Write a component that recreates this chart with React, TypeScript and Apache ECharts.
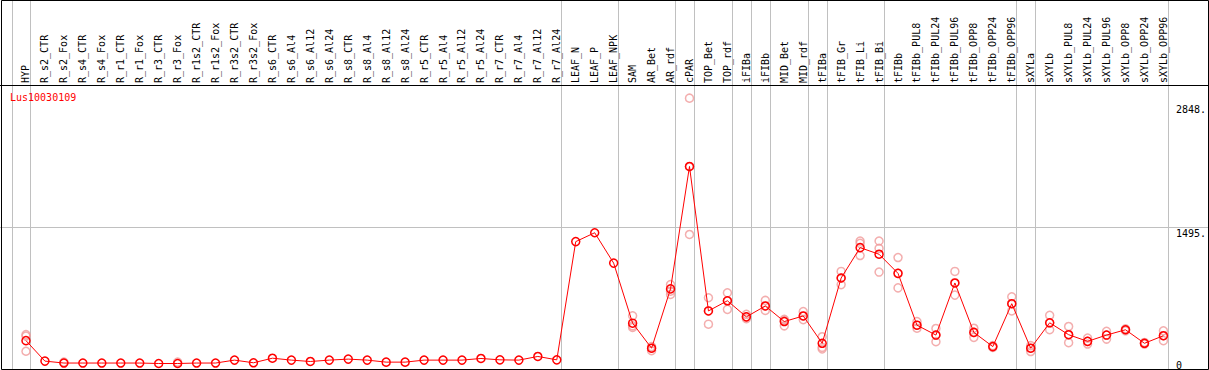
import React, { useEffect, useRef } from 'react';
import * as echarts from 'echarts';

const chartTitle = 'Lus10030109';

const categories = [
  'HYP',
  'R_s2_CTR', 'R_s2_Fox', 'R_s4_CTR', 'R_s4_Fox', 'R_r1_CTR', 'R_r1_Fox', 'R_r3_CTR', 'R_r3_Fox',
  'R_r1s2_CTR', 'R_r1s2_Fox', 'R_r3s2_CTR', 'R_r3s2_Fox',
  'R_s6_CTR', 'R_s6_Al4', 'R_s6_Al12', 'R_s6_Al24', 'R_s8_CTR', 'R_s8_Al4', 'R_s8_Al12', 'R_s8_Al24',
  'R_r5_CTR', 'R_r5_Al4', 'R_r5_Al12', 'R_r5_Al24', 'R_r7_CTR', 'R_r7_Al4', 'R_r7_Al12', 'R_r7_Al24',
  'LEAF_N', 'LEAF_P', 'LEAF_NPK',
  'SAM', 'AR_Bet', 'AR_rdf',
  'cPAR',
  'TOP_Bet', 'TOP_rdf',
  'iFIBa',
  'iFIBb',
  'MID_Bet', 'MID_rdf',
  'tFIBa',
  'tFIB_Gr', 'tFIB_Li', 'tFIB_Bi',
  'tFIBb', 'tFIBb_PUL8', 'tFIBb_PUL24', 'tFIBb_PUL96', 'tFIBb_OPP8', 'tFIBb_OPP24', 'tFIBb_OPP96',
  'sXYLa',
  'sXYLb', 'sXYLb_PUL8', 'sXYLb_PUL24', 'sXYLb_PUL96', 'sXYLb_OPP8', 'sXYLb_OPP24', 'sXYLb_OPP96',
];

const means = [
  250,
  26, 5, 5, 5, 5, 5, 0, 0,
  5, 5, 37, 8,
  58, 37, 22, 37, 48, 37, 15, 15,
  37, 37, 37, 55, 40, 37, 77, 40,
  1333, 1430, 1098,
  441, 167, 816,
  2155,
  575, 686,
  510,
  629,
  459, 520,
  221,
  935, 1267, 1195,
  986, 419, 311, 881, 340, 185, 654,
  167,
  445, 315, 242, 311, 369, 221, 304,
];

const replicates: number[][] = [
  [300, 316, 134],
  [], [15], [], [], [], [], [], [15],
  [], [], [], [],
  [], [], [], [], [], [], [], [],
  [], [], [], [], [], [], [], [],
  [], [], [],
  [521, 412, 394], [185, 167, 140], [863, 791, 755],
  [2902, 2152, 1411],
  [719, 575, 430], [773, 686, 592],
  [538, 510, 490],
  [690, 629, 581],
  [484, 470, 412], [567, 520, 480],
  [293, 177, 159],
  [1007, 935, 863], [1339, 1314, 1181], [1339, 1260, 1000],
  [1159, 986, 827], [459, 419, 386], [383, 311, 239], [1007, 881, 748], [386, 340, 286], [195, 185, 175], [730, 654, 575],
  [195, 167, 131],
  [527, 445, 369], [405, 315, 228], [278, 242, 213], [351, 311, 267], [380, 369, 358], [230, 221, 212], [358, 304, 250],
];

// index of the last category of each group (-1 = before the first)
const groupEnds = [-1, 0, 28, 31, 34, 35, 37, 38, 39, 41, 42, 45, 52, 53, 60];

const yTickValues = [0, 1495, 2848];
const yTickLabels = ['0', '1495.', '2848.'];
const yMin = -28;
const yMax = 3035;

const FONT = '"DejaVu Sans Mono", "Liberation Mono", monospace';

export default function App() {
  const ref = useRef<HTMLDivElement>(null);

  useEffect(() => {
    if (!ref.current) return;
    const chart = echarts.init(ref.current, null, { renderer: 'svg' });

    const repData: number[][] = [];
    replicates.forEach((vals, i) => vals.forEach((v) => repData.push([i, v])));

    const guideLines: any[] = groupEnds.map((b) => [
      { xAxis: b + 0.25, y: 0 },
      { xAxis: b + 0.25, y: 369 },
    ]);
    guideLines.push([
      { yAxis: yTickValues[1], x: 0 },
      { yAxis: yTickValues[1], x: 1209 },
    ]);

    const option: any = {
      animation: false,
      title: {
        text: chartTitle,
        left: 10,
        top: 92,
        padding: 0,
        textStyle: { color: '#ff0000', fontSize: 10, fontWeight: 'normal', fontFamily: FONT },
      },
      grid: { left: 16.5, top: 86, width: 1159, height: 283, containLabel: false },
      xAxis: [
        {
          type: 'category',
          data: categories,
          position: 'top',
          boundaryGap: true,
          axisLine: { show: false },
          axisTick: { show: false },
          splitLine: { show: false },
          axisLabel: {
            rotate: 90,
            interval: 0,
            margin: 3,
            fontSize: 10,
            fontFamily: FONT,
            color: '#000',
          },
        },
        { type: 'value', min: -0.5, max: 60.5, show: false },
      ],
      yAxis: {
        type: 'value',
        min: yMin,
        max: yMax,
        position: 'right',
        axisLine: { show: false },
        axisTick: { show: false },
        splitLine: { show: false },
        axisLabel: {
          customValues: yTickValues,
          margin: 3,
          verticalAlign: 'middle',
          align: 'left',
          formatter: (v: number) => {
            const k = yTickValues.indexOf(v);
            const s = k >= 0 ? yTickLabels[k] : String(v);
            return v === 0 ? `{z|${s}}` : `{a|${s}}`;
          },
          rich: {
            a: { fontSize: 10, fontFamily: FONT, color: '#000', lineHeight: 10, padding: [13, 0, 0, 0] },
            z: { fontSize: 10, fontFamily: FONT, color: '#000', lineHeight: 10, padding: [3, 0, 0, 0] },
          },
        },
      },
      graphic: [
        {
          type: 'rect',
          silent: true,
          z: 100,
          shape: { x: 1.5, y: 0.5, width: 1207, height: 369 },
          style: { fill: 'none', stroke: '#000', lineWidth: 1 },
        },
        {
          type: 'line',
          silent: true,
          z: 100,
          shape: { x1: 0, y1: 85.5, x2: 1209, y2: 85.5 },
          style: { stroke: '#000', lineWidth: 1 },
        },
      ],
      series: [
        {
          type: 'line',
          xAxisIndex: 1,
          yAxisIndex: 0,
          data: [],
          z: 0,
          markLine: {
            silent: true,
            z: 0,
            symbol: ['none', 'none'],
            label: { show: false },
            lineStyle: { color: '#c0c0c0', width: 1, type: 'solid' },
            emphasis: { disabled: true },
            data: guideLines,
          },
        },
        {
          type: 'scatter',
          xAxisIndex: 0,
          yAxisIndex: 0,
          data: repData,
          symbol: 'circle',
          symbolSize: 8,
          z: 2,
          itemStyle: { color: 'rgba(0,0,0,0)', borderColor: '#f09a9a', borderWidth: 1.5 },
          emphasis: { disabled: true },
        },
        {
          type: 'line',
          xAxisIndex: 0,
          yAxisIndex: 0,
          data: means,
          symbol: 'circle',
          symbolSize: 8,
          showAllSymbol: true,
          z: 3,
          lineStyle: { color: '#ff0000', width: 1 },
          itemStyle: { color: 'rgba(0,0,0,0)', borderColor: '#ff0000', borderWidth: 1.5 },
          emphasis: { disabled: true },
        },
      ],
    };

    chart.setOption(option);
    return () => chart.dispose();
  }, []);

  return (
    <div
      ref={ref}
      style={{ position: 'absolute', left: 0, top: 0, width: 1209, height: 370, background: '#fff' }}
    />
  );
}
